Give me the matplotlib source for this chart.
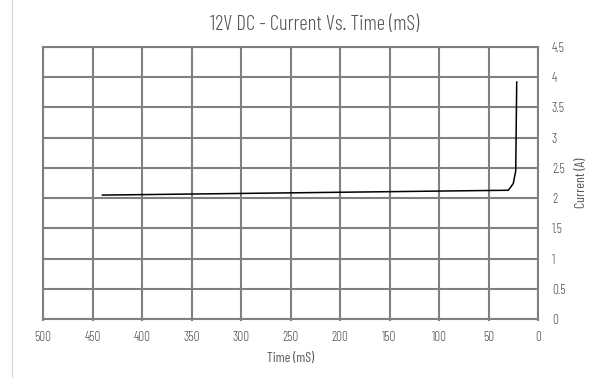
import matplotlib
matplotlib.use("Agg")
import matplotlib.pyplot as plt
from matplotlib.lines import Line2D

plt.rcParams['font.family'] = ['Barlow Condensed', 'DejaVu Sans']
plt.rcParams['font.weight'] = 300

time_ms = [440, 30, 25, 22.5, 21.5]
current_a = [2.05, 2.13, 2.24, 2.45, 3.92]
x_ticks = [500, 450, 400, 350, 300, 250, 200, 150, 100, 50, 0]
y_ticks = [0, 0.5, 1, 1.5, 2, 2.5, 3, 3.5, 4, 4.5]

txt_c = "#555555"
grid_c = "#808080"

fig = plt.figure(figsize=(6.08, 3.78), dpi=100)
ax = fig.add_axes([43/608, 1-319/378, (538-43)/608, (319-47)/378])
ax.plot(time_ms, current_a, color="black", lw=1.1)
ax.set_xlim(500, 0)
ax.set_ylim(0, 4.5)
ax.set_xticks(x_ticks)
ax.set_yticks(y_ticks)
ax.set_xticklabels([str(v) for v in x_ticks])
ax.set_yticklabels([("%g" % v) for v in y_ticks])
ax.yaxis.tick_right()
ax.yaxis.set_label_position("right")
ax.grid(True, color=grid_c, lw=1.5)
ax.set_axisbelow(True)
for s in ax.spines.values():
    s.set_color(grid_c)
    s.set_linewidth(1.5)
ax.tick_params(axis='x', length=1.5, width=1.5, color=grid_c, labelsize=9.5, labelcolor=txt_c, pad=7)
ax.tick_params(axis='y', length=0, labelsize=9.5, labelcolor=txt_c, pad=10)
ax.set_xlabel("Time (mS)", fontsize=10, color=txt_c, labelpad=6)
ax.set_ylabel("Current (A)", fontsize=10, color=txt_c, labelpad=7, rotation=90)
fig.text(315/608, 1-30/378, "12V DC - Current Vs. Time (mS)", fontsize=15, color=txt_c,
         ha='center', va='baseline')
fig.add_artist(Line2D([12/608, 12/608], [0, 1], color="#d9d9d9", lw=1, transform=fig.transFigure))
fig.savefig("out.png", dpi=100)
